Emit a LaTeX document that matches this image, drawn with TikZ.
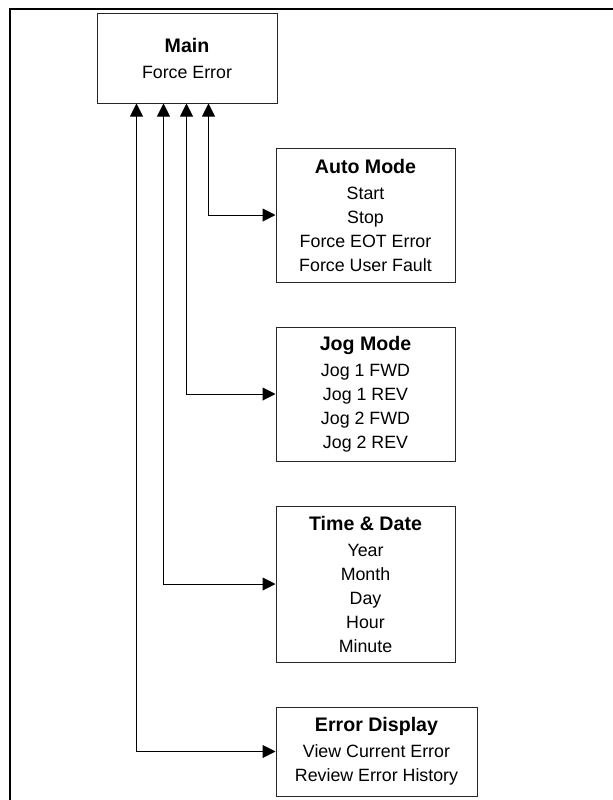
\documentclass[tikz,border=0pt]{standalone}
\usepackage{fontspec}
\setmainfont{Liberation Sans}
\usetikzlibrary{arrows.meta}
\def\hd#1{{\bfseries\fontsize{9.8}{12}\selectfont #1}}

\begin{document}
\begin{tikzpicture}[x=0.5pt, y=-0.5pt,
		menu/.style={draw=black!85, line width=0.5pt, inner sep=0pt, align=center,
			font=\fontsize{8.9}{12}\selectfont},
		link/.style={line width=0.5pt,
			{Triangle[width=6.5pt,length=6.5pt]}-{Triangle[width=6.5pt,length=6.5pt]}}]
			%%%%% START %%%%%
			
			\useasboundingbox (0, 0) rectangle (613, 800);
			\draw[line width=0.8pt] (10, 800) -- (10, 9) -- (613, 9);
			
			% main screen
			\node[menu, minimum width=90pt, minimum height=45pt] (main) at (187, 58)
				{\hd{Main}\\[1pt] Force Error};
			
			% sub menus
			\node[menu, minimum width=89.5pt, minimum height=67pt] (auto) at (365.5, 215)
				{\hd{Auto Mode}\\[1pt] Start\\ Stop\\ Force EOT Error\\ Force User Fault};
			\node[menu, minimum width=89.5pt, minimum height=67pt] (jog) at (365.5, 394)
				{\hd{Jog Mode}\\[1pt] Jog 1 FWD\\ Jog 1 REV\\ Jog 2 FWD\\ Jog 2 REV};
			\node[menu, minimum width=89.5pt, minimum height=78pt] (clock) at (365.5, 584)
				{\hd{Time \& Date}\\[1pt] Year\\ Month\\ Day\\ Hour\\ Minute};
			\node[menu, minimum width=100.5pt, minimum height=44.5pt] (errors) at (376.5, 751.5)
				{\hd{Error Display}\\[1pt] View Current Error\\ Review Error History};
			
			% taps under the main box
			\coordinate (t1) at ([xshift=20pt]main.south west);
			\coordinate (t2) at ([xshift=33.5pt]main.south west);
			\coordinate (t3) at ([xshift=45pt]main.south west);
			\coordinate (t4) at ([xshift=56pt]main.south west);
			
			\draw[link] (t4) |- (auto.west);
			\draw[link] (t3) |- (jog.west);
			\draw[link] (t2) |- (clock.west);
			\draw[link] (t1) |- (errors.west);
			
			%%%%% END %%%%%
		\end{tikzpicture}
\end{document}
